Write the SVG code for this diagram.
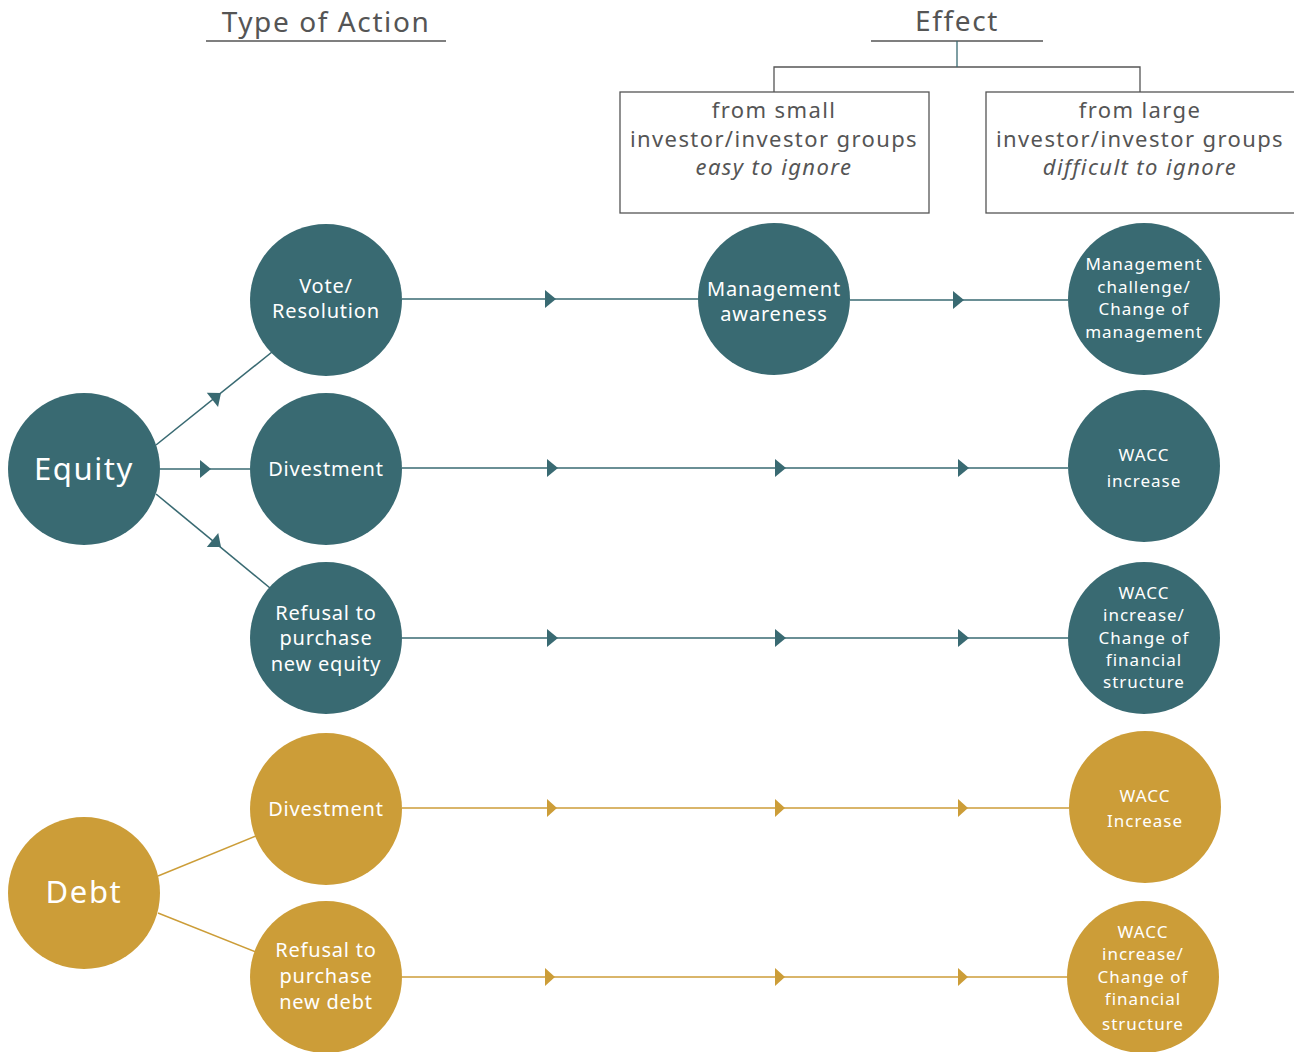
<svg xmlns="http://www.w3.org/2000/svg" width="1294" height="1052" viewBox="0 0 1294 1052">
<style>
text{font-family:"Noto Sans","Liberation Sans",sans-serif;text-anchor:middle}
.h1{fill:#555;font-size:28px;letter-spacing:1.6px}
.h2{fill:#555;font-size:22px;letter-spacing:1.4px}
.it{font-style:italic}
.ct{fill:#fff;font-size:20px;letter-spacing:0.8px}
.cs{fill:#fff;font-size:17px;letter-spacing:1px}
.cb{fill:#fff;font-size:31px;letter-spacing:1.6px}
.teal{fill:#396a72}
.gold{fill:#cc9d38}
.lt{stroke:#396a72;stroke-width:1.6;fill:none}
.lg{stroke:#cc9d38;stroke-width:1.4;fill:none}
.hl{stroke:#555;stroke-width:1.4;fill:none}
.box{stroke:#555;stroke-width:1.3;fill:#fff}
</style>
<defs>
<path id="tt" d="M-11,-9 L0,0 L-11,9 Z" fill="#396a72"/>
<path id="tg" d="M-10,-9 L0,0 L-10,9 Z" fill="#cc9d38"/>
</defs>
<rect width="1294" height="1052" fill="#fff"/>
<g id="header">
<text class="h1" x="326" y="32">Type of Action</text>
<line class="hl" x1="206" y1="41" x2="446" y2="41"/>
<text class="h1" x="957" y="31">Effect</text>
<line class="hl" x1="871" y1="41" x2="1043" y2="41"/>
<path d="M774,92 V67 H1140 V92" stroke="#555" stroke-width="1.3" fill="none"/>
<path d="M957,41 V67" stroke="#396a72" stroke-width="1.3"/>
</g>
<g id="box-small">
<rect class="box" x="620" y="92" width="309" height="121"/>
<text class="h2" x="774" y="118">from small</text>
<text class="h2" x="774" y="147">investor/investor groups</text>
<text class="h2 it" x="774" y="175">easy to ignore</text>
</g>
<g id="box-large">
<rect class="box" x="986" y="92" width="320" height="121"/>
<text class="h2" x="1140" y="118">from large</text>
<text class="h2" x="1140" y="147">investor/investor groups</text>
<text class="h2 it" x="1140" y="175">difficult to ignore</text>
</g>
<g id="connectors">
<line class="lt" x1="156" y1="445" x2="272" y2="352"/>
<line class="lt" x1="156" y1="494" x2="270" y2="588"/>
<line class="lt" x1="160" y1="469" x2="250" y2="469"/>
<line class="lt" x1="402" y1="299" x2="698" y2="299"/>
<line class="lt" x1="850" y1="300" x2="1068" y2="300"/>
<line class="lt" x1="402" y1="468" x2="1068" y2="468"/>
<line class="lt" x1="402" y1="638" x2="1068" y2="638"/>
<line class="lg" x1="158" y1="876" x2="256" y2="836"/>
<line class="lg" x1="158" y1="913" x2="256" y2="952"/>
<line class="lg" x1="402" y1="808" x2="1069" y2="808"/>
<line class="lg" x1="402" y1="977" x2="1069" y2="977"/>
<use href="#tt" transform="translate(221,393) rotate(-38.7)"/>
<use href="#tt" transform="translate(221,547) rotate(39.5)"/>
<use href="#tt" x="211" y="469"/>
<use href="#tt" x="556" y="299"/>
<use href="#tt" x="964" y="300"/>
<use href="#tt" x="558" y="468"/>
<use href="#tt" x="786" y="468"/>
<use href="#tt" x="969" y="468"/>
<use href="#tt" x="558" y="638"/>
<use href="#tt" x="786" y="638"/>
<use href="#tt" x="969" y="638"/>
<use href="#tg" x="557" y="808"/>
<use href="#tg" x="785" y="808"/>
<use href="#tg" x="968" y="808"/>
<use href="#tg" x="555" y="977"/>
<use href="#tg" x="785" y="977"/>
<use href="#tg" x="968" y="977"/>
</g>
<g id="equity">
<circle class="teal" cx="84" cy="469" r="76"/>
<text class="cb" x="84" y="480">Equity</text>
</g>
<g id="vote">
<circle class="teal" cx="326" cy="300" r="76"/>
<text class="ct" x="326" y="293">Vote/</text>
<text class="ct" x="326" y="318">Resolution</text>
</g>
<g id="divest-eq">
<circle class="teal" cx="326" cy="469" r="76"/>
<text class="ct" x="326" y="476">Divestment</text>
</g>
<g id="refusal-eq">
<circle class="teal" cx="326" cy="638" r="76"/>
<text class="ct" x="326" y="620">Refusal to</text>
<text class="ct" x="326" y="645">purchase</text>
<text class="ct" x="326" y="671">new equity</text>
</g>
<g id="mgmt-aware">
<circle class="teal" cx="774" cy="299" r="76"/>
<text class="ct" x="774" y="296">Management</text>
<text class="ct" x="774" y="321">awareness</text>
</g>
<g id="mgmt-change">
<circle class="teal" cx="1144" cy="299" r="76"/>
<text class="cs" x="1144" y="270">Management</text>
<text class="cs" x="1144" y="293">challenge/</text>
<text class="cs" x="1144" y="315">Change of</text>
<text class="cs" x="1144" y="338">management</text>
</g>
<g id="wacc-eq">
<circle class="teal" cx="1144" cy="466" r="76"/>
<text class="cs" x="1144" y="461">WACC</text>
<text class="cs" x="1144" y="487">increase</text>
</g>
<g id="wacc-fin-eq">
<circle class="teal" cx="1144" cy="638" r="76"/>
<text class="cs" x="1144" y="599">WACC</text>
<text class="cs" x="1144" y="621">increase/</text>
<text class="cs" x="1144" y="644">Change of</text>
<text class="cs" x="1144" y="666">financial</text>
<text class="cs" x="1144" y="688">structure</text>
</g>
<g id="debt">
<circle class="gold" cx="84" cy="893" r="76"/>
<text class="cb" x="84" y="903">Debt</text>
</g>
<g id="divest-debt">
<circle class="gold" cx="326" cy="809" r="76"/>
<text class="ct" x="326" y="816">Divestment</text>
</g>
<g id="refusal-debt">
<circle class="gold" cx="326" cy="977" r="76"/>
<text class="ct" x="326" y="957">Refusal to</text>
<text class="ct" x="326" y="983">purchase</text>
<text class="ct" x="326" y="1009">new debt</text>
</g>
<g id="wacc-debt">
<circle class="gold" cx="1145" cy="807" r="76"/>
<text class="cs" x="1145" y="802">WACC</text>
<text class="cs" x="1145" y="827">Increase</text>
</g>
<g id="wacc-fin-debt">
<circle class="gold" cx="1143" cy="977" r="76"/>
<text class="cs" x="1143" y="938">WACC</text>
<text class="cs" x="1143" y="960">increase/</text>
<text class="cs" x="1143" y="983">Change of</text>
<text class="cs" x="1143" y="1005">financial</text>
<text class="cs" x="1143" y="1030">structure</text>
</g>
</svg>
